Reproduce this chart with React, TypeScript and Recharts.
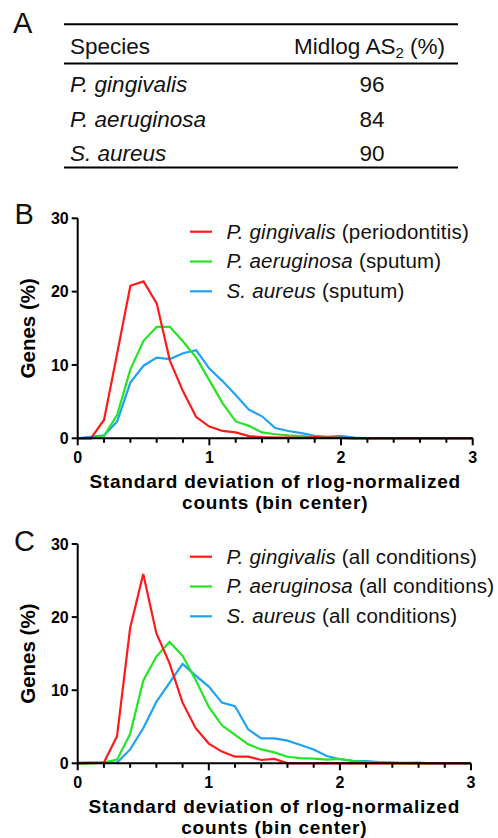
import { LineChart, Line, XAxis, YAxis } from 'recharts';

const FONT = "'Liberation Sans', Arial, Helvetica, sans-serif";

// bin centers (SD of rlog-normalized counts)
const bins = [
  0, 0.1, 0.2, 0.3, 0.4, 0.5, 0.6, 0.7, 0.8, 0.9, 1.0, 1.1, 1.2, 1.3, 1.4, 1.5,
  1.6, 1.7, 1.8, 1.9, 2.0, 2.1, 2.2, 2.3, 2.4, 2.5, 2.6, 2.7, 2.8, 2.9, 3.0,
];
const xTicks = [0, 0.2, 0.4, 0.6, 0.8, 1, 1.2, 1.4, 1.6, 1.8, 2, 2.2, 2.4, 2.6, 2.8, 3];
const yTicks = [0, 10, 20, 30];

// panel B - clinical samples
const pgB = [0, 0, 2.5, 11.6, 20.8, 21.4, 18.4, 10.6, 6.4, 2.9, 1.6, 1.0, 0.8, 0.3, 0.15, 0.1, 0.1, 0.05, 0.15, 0.1, 0.05, 0, 0, 0, 0, 0, 0, 0, 0, 0, 0];
const paB = [0, 0, 0.3, 3.2, 9.4, 13.3, 15.2, 15.2, 13.2, 11.0, 7.9, 4.8, 2.3, 1.7, 0.8, 0.55, 0.4, 0.3, 0.2, 0.1, 0.05, 0, 0, 0, 0, 0, 0, 0, 0, 0, 0];
const saB = [0, 0.2, 0.4, 2.3, 7.6, 9.9, 11.0, 10.8, 11.6, 12.0, 9.5, 7.8, 5.9, 3.9, 3.0, 1.4, 1.0, 0.7, 0.35, 0.2, 0.35, 0.1, 0, 0, 0, 0, 0, 0, 0, 0, 0];

// panel C - all conditions
const pgC = [0, 0.05, 0.1, 3.7, 18.5, 25.9, 17.8, 13.7, 8.3, 4.8, 2.7, 1.6, 0.9, 0.9, 0.45, 0.6, 0, 0, 0, 0, 0, 0, 0, 0, 0, 0, 0, 0, 0, 0, 0];
const paC = [0, 0, 0.1, 0.5, 4.0, 11.3, 14.6, 16.6, 14.7, 11.4, 7.7, 5.2, 3.9, 2.6, 1.9, 1.5, 0.9, 0.7, 0.65, 0.5, 0.6, 0.3, 0.2, 0.1, 0.05, 0, 0, 0, 0, 0, 0];
const saC = [0.1, 0.1, 0.05, 0.1, 1.9, 4.8, 8.4, 11.0, 13.6, 12.0, 10.5, 8.3, 7.8, 4.65, 3.4, 3.4, 3.1, 2.5, 1.9, 1.0, 0.55, 0.35, 0.3, 0.15, 0.1, 0.05, 0.1, 0, 0, 0, 0];

const species = ['P. gingivalis', 'P. aeruginosa', 'S. aureus'];
const conditionsB = ['(periodontitis)', '(sputum)', '(sputum)'];
const conditionsC = ['(all conditions)', '(all conditions)', '(all conditions)'];
const colors = ['#ff1a1a', '#22e622', '#1ea2f5'];

// table A
const tableSpecies = ['P. gingivalis', 'P. aeruginosa', 'S. aureus'];
const midlogAS2 = [96, 84, 90];

const toRows = (pg: number[], pa: number[], sa: number[]) =>
  bins.map((b, i) => ({ bin: b, pg: pg[i], pa: pa[i], sa: sa[i] }));

const dataB = toRows(pgB, paB, saB);
const dataC = toRows(pgC, paC, saC);

function XTick(props: any) {
  const { x, y, payload } = props;
  const v = payload.value;
  const major = Math.abs(v - Math.round(v)) < 1e-6;
  return (
    <g>
      <line x1={x} x2={x} y1={y} y2={y + (major ? 7 : 4.5)} stroke="#000" strokeWidth={2} />
      {major && (
        <text x={x} y={y + 25} textAnchor="middle" fontFamily={FONT} fontSize={16} fontWeight={700} fill="#000">
          {Math.round(v)}
        </text>
      )}
    </g>
  );
}

// two-line x title; kept tight like the original figure
function XTitle(props: any) {
  const vb = props.viewBox || { x: 78, y: 0, width: 395 };
  const cx = vb.x + vb.width / 2;
  return (
    <g fontFamily={FONT} fontSize={19} fontWeight={700} fill="#000" letterSpacing={0.8}>
      <text x={cx} y={vb.y + 49.6} textAnchor="middle">Standard deviation of rlog-normalized</text>
      <text x={cx} y={vb.y + 71} textAnchor="middle">counts (bin center)</text>
    </g>
  );
}

function YTitle(props: any) {
  const vb = props.viewBox || { x: 0, y: 0, height: 220 };
  const cy = vb.y + vb.height / 2;
  return (
    <text
      x={35.5}
      y={cy}
      transform={`rotate(-90 35.5 ${cy})`}
      textAnchor="middle"
      fontFamily={FONT}
      fontSize={20.5}
      fontWeight={700}
      fill="#000"
    >
      Genes (%)
    </text>
  );
}

function Legend3({ top, conditions }: { top: number; conditions: string[] }) {
  return (
    <g>
      {species.map((s, i) => {
        const y = top + i * 29.8;
        return (
          <g key={s}>
            <line x1={190} x2={212} y1={y} y2={y} stroke={colors[i]} strokeWidth={2.2} />
            <text x={226.5} y={y + 6.8} fontFamily={FONT} fontSize={20.5} letterSpacing={0.2} fill="#111">
              <tspan fontStyle="italic">{s}</tspan> {conditions[i]}
            </text>
          </g>
        );
      })}
    </g>
  );
}

function Panel({ top, height, mTop, mRight, xAxisH, data }: any) {
  return (
    <div style={{ position: 'absolute', left: 0, top }}>
      <LineChart width={498} height={height} data={data} margin={{ top: mTop, right: mRight, bottom: 0, left: 0 }}>
        <XAxis
          dataKey="bin"
          type="number"
          domain={[0, 3]}
          ticks={xTicks}
          interval={0}
          tickSize={0}
          tickMargin={0}
          tickLine={false}
          tick={<XTick />}
          axisLine={{ stroke: '#000', strokeWidth: 2 }}
          height={xAxisH}
          label={<XTitle />}
        />
        <YAxis
          type="number"
          domain={[0, 30]}
          ticks={yTicks}
          interval={0}
          width={77.7}
          tickSize={6}
          tickMargin={3}
          tickLine={{ stroke: '#000', strokeWidth: 2 }}
          axisLine={{ stroke: '#000', strokeWidth: 2 }}
          tick={{ fill: '#000', fontSize: 16, fontWeight: 700, fontFamily: FONT }}
          label={<YTitle />}
        />
        <Line type="linear" dataKey="sa" stroke={colors[2]} strokeWidth={2.2} dot={false} isAnimationActive={false} />
        <Line type="linear" dataKey="pa" stroke={colors[1]} strokeWidth={2.2} dot={false} isAnimationActive={false} />
        <Line type="linear" dataKey="pg" stroke={colors[0]} strokeWidth={2.2} dot={false} isAnimationActive={false} />
      </LineChart>
    </div>
  );
}

export default function App() {
  const rowBase = [91.7, 126.5, 161.3];
  return (
    <div style={{ position: 'absolute', left: 0, top: 0, width: 498, height: 838, background: '#fff', fontFamily: FONT }}>
      <Panel top={200} height={315} mTop={18.3} mRight={25.3} xAxisH={76.7} data={dataB} />
      <Panel top={520} height={318} mTop={24} mRight={27} xAxisH={74.7} data={dataC} />
      <svg width={498} height={838} style={{ position: 'absolute', left: 0, top: 0, pointerEvents: 'none' }}>
        <g fontFamily={FONT} fill="#111">
          <text x={13} y={33} fontSize={29}>A</text>
          <text x={14.5} y={224.3} fontSize={29}>B</text>
          <text x={14} y={550.5} fontSize={29}>C</text>
        </g>
        {/* table A */}
        <line x1={64} x2={458} y1={24.3} y2={24.3} stroke="#000" strokeWidth={2} />
        <line x1={64} x2={458} y1={63.5} y2={63.5} stroke="#000" strokeWidth={2.2} />
        <line x1={64} x2={458} y1={167.5} y2={167.5} stroke="#000" strokeWidth={2.2} />
        <g fontFamily={FONT} fontSize={22.5} fill="#111">
          <text x={70} y={54}>Species</text>
          <text x={445} y={54} textAnchor="end">
            Midlog AS<tspan fontSize={15} dy={4}>2</tspan>
            <tspan dy={-4}> (%)</tspan>
          </text>
          {tableSpecies.map((s, i) => (
            <g key={s}>
              <text x={70} y={rowBase[i]} fontStyle="italic">{s}</text>
              <text x={372} y={rowBase[i]} textAnchor="middle">{midlogAS2[i]}</text>
            </g>
          ))}
        </g>
        <Legend3 top={231.7} conditions={conditionsB} />
        <Legend3 top={556.7} conditions={conditionsC} />
      </svg>
    </div>
  );
}
